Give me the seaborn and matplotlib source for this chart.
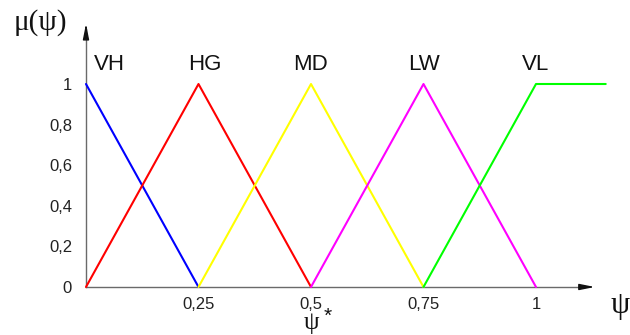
import pandas as pd
import matplotlib
matplotlib.use('Agg')
import matplotlib.pyplot as plt
import seaborn as sns

# membership functions (breakpoints)
terms = ['VH', 'HG', 'MD', 'LW', 'VL']
colors = ['#0000ff', '#ff0000', '#ffff00', '#ff00ff', '#00ff00']
vh_x, vh_y = [0, 0.25], [1, 0]
hg_x, hg_y = [0, 0.25, 0.5], [0, 1, 0]
md_x, md_y = [0.25, 0.5, 0.75], [0, 1, 0]
lw_x, lw_y = [0.5, 0.75, 1.0], [0, 1, 0]
vl_x, vl_y = [0.75, 1.0, 1.155], [0, 1, 1]
term_label_x = [0.053, 0.263, 0.5, 0.752, 0.998]

x_ticks = [0.25, 0.5, 0.75, 1.0]
x_tick_labels = ['0,25', '0,5', '0,75', '1']
y_ticks = [0, 0.2, 0.4, 0.6, 0.8, 1.0]
y_tick_labels = ['0', '0,2', '0,4', '0,6', '0,8', '1']

rows = []
for name, xs, ys in zip(terms, [vh_x, hg_x, md_x, lw_x, vl_x], [vh_y, hg_y, md_y, lw_y, vl_y]):
    for i, (a, b) in enumerate(zip(xs, ys)):
        rows.append({'term': name, 'order': i, 'psi': a, 'mu': b})
df = pd.DataFrame(rows)

sns.set_style('white')
plt.rcParams['font.family'] = ['Liberation Sans', 'DejaVu Sans']

fig = plt.figure(figsize=(6.3, 3.35), dpi=100)
ax = fig.add_axes([0, 0, 1, 1])
ax.set_xlim(-0.1911, 1.2089)
ax.set_ylim(-0.2365, 1.4138)

sns.lineplot(data=df, x='psi', y='mu', hue='term', palette=dict(zip(terms, colors)),
             units='term', estimator=None, sort=False, linewidth=1.5, legend=False, ax=ax)

axis_color = '#6a6a6a'
for side in ['top', 'right']:
    ax.spines[side].set_visible(False)
ax.spines['left'].set_position(('data', 0))
ax.spines['bottom'].set_position(('data', 0))
ax.spines['left'].set_bounds(0, 1.27)
ax.spines['bottom'].set_bounds(0, 1.10)
for side in ['left', 'bottom']:
    ax.spines[side].set_color(axis_color)
    ax.spines[side].set_linewidth(1)
    ax.spines[side].set_zorder(0)

# arrow heads
ax.annotate('', xy=(1.137, 0), xytext=(1.09, 0),
            arrowprops=dict(arrowstyle='-|>,head_length=0.9,head_width=0.18', color='#111111', lw=1))
ax.annotate('', xy=(0, 1.31), xytext=(0, 1.25),
            arrowprops=dict(arrowstyle='-|>,head_length=0.9,head_width=0.18', color='#111111', lw=1))

ax.set_xticks(x_ticks)
ax.set_xticklabels(x_tick_labels)
ax.set_yticks(y_ticks)
ax.set_yticklabels(y_tick_labels)
ax.tick_params(axis='x', direction='in', length=3, width=1, color=axis_color, pad=7,
               labelsize=12, labelcolor='#222222')
ax.tick_params(axis='y', direction='in', length=5, width=1, color=axis_color, pad=10,
               labelsize=12, labelcolor='#222222')
ax.set_xlabel('')
ax.set_ylabel('')

for name, lx in zip(terms, term_label_x):
    ax.text(lx, 1.095, name, fontsize=16, ha='center', va='center', color='#111111')

serif = ['Liberation Serif', 'DejaVu Serif']
ax.text(-0.102, 1.305, 'μ(ψ)', fontsize=21, family=serif, ha='center', va='center', color='#111111')
ax.text(1.187, -0.09, 'ψ', fontsize=22, family=serif, ha='center', va='center', color='#111111')
ax.text(0.5, -0.233, 'ψ', fontsize=18, family=serif, ha='center', va='bottom', color='#111111')
ax.text(0.538, -0.145, '*', fontsize=15, ha='center', va='center', color='#111111')

fig.savefig('out.png', dpi=100)
